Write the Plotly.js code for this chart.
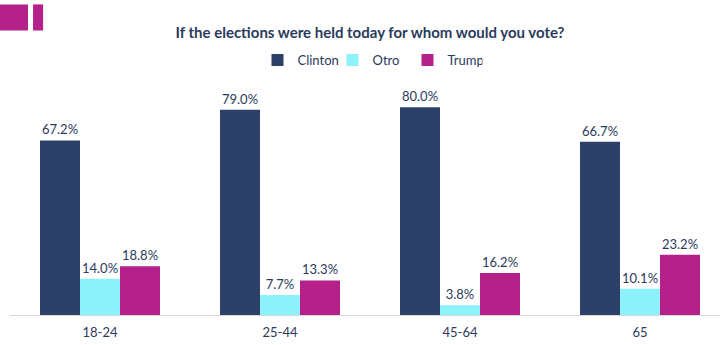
<!DOCTYPE html>
<html><head><meta charset="utf-8">
<script src="https://cdn.plot.ly/plotly-3.0.1.min.js"></script>
<style>html,body{margin:0;padding:0;overflow:hidden;background:#fff;}#chart{width:730px;height:345px;}</style>
</head><body><div id="chart"></div>
<script>
const categories = ["18-24", "25-44", "45-64", "65"];
const clinton = [67.2, 79.0, 80.0, 66.7];
const otro = [14.0, 7.7, 3.8, 10.1];
const trump = [18.8, 13.3, 16.2, 23.2];
const seriesNames = ["Clinton", "Otro", "Trump"];
const colors = ["#2c4068", "#8ef2fb", "#b5218a"];
const textColor = "#2b3a5c";
const fontFam = "Lato, 'Open Sans', sans-serif";

const data = [clinton, otro, trump].map((vals, i) => ({
  type: "bar",
  name: seriesNames[i],
  x: categories,
  y: vals,
  marker: {color: colors[i]},
  text: vals.map(v => v.toFixed(1) + "%"),
  textposition: "outside",
  cliponaxis: false,
  textfont: {family: fontFam, size: 13, color: textColor},
  hoverinfo: "none"
}));

const layout = {
  width: 730, height: 345,
  margin: {l: 10, r: 0, t: 54, b: 30},
  paper_bgcolor: "#fff", plot_bgcolor: "#fff",
  barmode: "group", bargap: 0.3333, bargroupgap: 0,
  title: {text: "<b>If the elections were held today for whom would you vote?</b>",
    font: {family: fontFam, size: 15, color: textColor},
    x: 0.5, xref: "paper", y: 0.905, yref: "container", yanchor: "middle"},
  showlegend: true,
  legend: {orientation: "h", x: 0.5, xanchor: "center", y: 0.977, yanchor: "middle",
    font: {family: fontFam, size: 13, color: textColor}, itemwidth: 30, entrywidth: 30,
    bgcolor: "rgba(0,0,0,0)"},
  xaxis: {showline: true, linecolor: "#d9d9d9", linewidth: 1, ticks: "", ticklabelstandoff: 5,
    tickfont: {family: fontFam, size: 13, color: textColor}, fixedrange: true},
  yaxis: {range: [0, 100.5], visible: false, showgrid: false, zeroline: false},
  shapes: [
    {type: "rect", xref: "paper", yref: "paper", x0: -0.02, x1: 0.025, y0: 1.09, y1: 1.19,
      fillcolor: "#b5218a", line: {width: 0}},
    {type: "rect", xref: "paper", yref: "paper", x0: 0.032, x1: 0.046, y0: 1.09, y1: 1.19,
      fillcolor: "#b5218a", line: {width: 0}}
  ]
};
Plotly.newPlot("chart", data, layout, {displayModeBar: false, staticPlot: true});
</script></body></html>
